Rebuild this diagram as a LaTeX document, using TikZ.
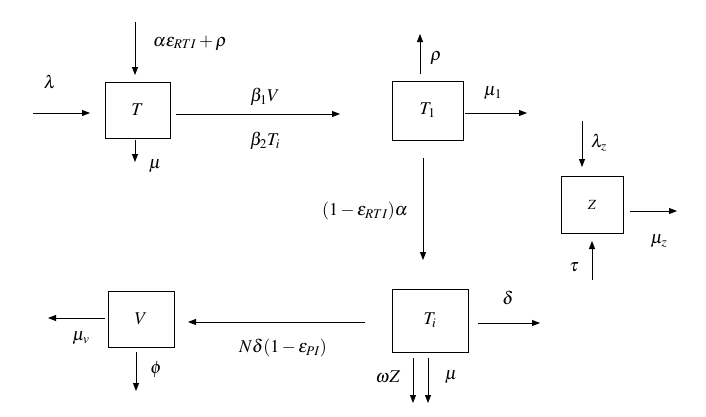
\documentclass[tikz,border=0pt]{standalone}
\usepackage{mathptmx}
\usepackage{fontspec}
\setmainfont{Liberation Serif}
\usetikzlibrary{arrows.meta}
\tikzset{
  box/.style={draw, line width=0.8pt, inner sep=0pt, font=\fontsize{18}{21}\selectfont},
  arr/.style={line width=0.8pt, -{Triangle[length=8pt,width=6pt]}},
  lab/.style={inner sep=0pt, font=\fontsize{18}{21}\selectfont}
}
\begin{document}
\begin{tikzpicture}[x=1pt,y=-1pt]
\useasboundingbox (0,0) rectangle (706,416);
% boxes
\node[box, minimum width=65pt, minimum height=56pt] (T) at (137.5,110) {$T$};
\node[box, minimum width=71pt, minimum height=59pt] (T1) at (427.5,110.5) {$T_1$};
\node[box, minimum width=62pt, minimum height=57pt, font=\fontsize{14}{16}\selectfont] (Z) at (592,204.5) {$Z$};
\node[box, minimum width=76pt, minimum height=63pt] (Ti) at (430,320.5) {$T_i$};
\node[box, minimum width=66pt, minimum height=56pt] (V) at (141,319) {$V$};
% free ends
\coordinate (lamS) at (33,113);
\coordinate (lamE) at (90,113);
\coordinate (aS) at (135,22);
\coordinate (aE) at (135,75);
\coordinate (bS) at (176,114);
\coordinate (bE) at (340,114);
\coordinate (muS) at (135,140);
\coordinate (muE) at (135,162);
\coordinate (rhoS) at (420,74);
\coordinate (rhoE) at (420,34);
\coordinate (m1S) at (465,113);
\coordinate (m1E) at (527,113);
\coordinate (dS) at (423,158);
\coordinate (dE) at (423,260);
\coordinate (lzS) at (582,121);
\coordinate (lzE) at (582,167);
\coordinate (mzS) at (630,211);
\coordinate (mzE) at (677,211);
\coordinate (tS) at (592,280);
\coordinate (tE) at (592,241);
\coordinate (deS) at (478,323);
\coordinate (deE) at (540,323);
\coordinate (nS) at (365,322);
\coordinate (nE) at (188,322);
\coordinate (wS) at (413,358);
\coordinate (wE) at (413,403);
\coordinate (m2S) at (428,358);
\coordinate (m2E) at (428,403);
\coordinate (mvS) at (105,318);
\coordinate (mvE) at (48,318);
\coordinate (phS) at (136,352);
\coordinate (phE) at (136,391);
% connectors
\draw[arr] (lamS) -- (lamE);
\draw[arr] (aS) -- (aE);
\draw[arr] (bS) -- (bE);
\draw[arr] (muS) -- (muE);
\draw[arr] (rhoS) -- (rhoE);
\draw[arr] (m1S) -- (m1E);
\draw[arr] (dS) -- (dE);
\draw[arr] (lzS) -- (lzE);
\draw[arr] (mzS) -- (mzE);
\draw[arr] (tS) -- (tE);
\draw[arr] (deS) -- (deE);
\draw[arr] (nS) -- (nE);
\draw[arr] (wS) -- (wE);
\draw[arr] (m2S) -- (m2E);
\draw[arr] (mvS) -- (mvE);
\draw[arr] (phS) -- (phE);
% labels
\node[lab] (l1) at (50,82) {$\lambda$};
\node[lab] (l2) at (190,43) {$\alpha\varepsilon_{RTI}+\rho$};
\node[lab] (l3) at (265,97) {$\beta_1 V$};
\node[lab] (l4) at (265,141) {$\beta_2 T_i$};
\node[lab] (l5) at (155,166) {$\mu$};
\node[lab] (l6) at (436,58) {$\rho$};
\node[lab] (l7) at (493,93) {$\mu_1$};
\node[lab] (l8) at (599,143) {$\lambda_z$};
\node[lab] (l9) at (659,241) {$\mu_z$};
\node[lab] (l10) at (574,267) {$\tau$};
\node[lab] (l11) at (365,211) {$(1-\varepsilon_{RTI})\alpha$};
\node[lab] (l12) at (508,298) {$\delta$};
\node[lab] (l13) at (388,377) {$\omega Z$};
\node[lab] (l14) at (451,377) {$\mu$};
\node[lab] (l15) at (283,348) {$N\delta(1-\varepsilon_{PI})$};
\node[lab] (l16) at (81,338) {$\mu_v$};
\node[lab] (l17) at (156,369) {$\phi$};
\end{tikzpicture}
\end{document}
